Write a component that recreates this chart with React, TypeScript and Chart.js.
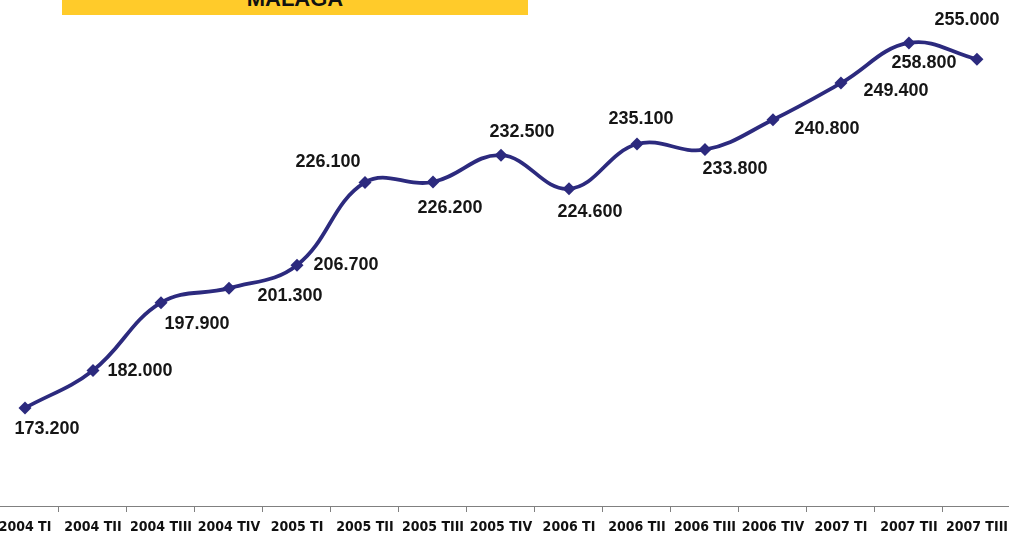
import React, { useEffect, useRef } from "react";
import { Chart, registerables } from "chart.js";

Chart.register(...registerables);

const categories = [
  "2004 TI", "2004 TII", "2004 TIII", "2004 TIV",
  "2005 TI", "2005 TII", "2005 TIII", "2005 TIV",
  "2006 TI", "2006 TII", "2006 TIII", "2006 TIV",
  "2007 TI", "2007 TII", "2007 TIII",
];

const values = [
  173200, 182000, 197900, 201300,
  206700, 226100, 226200, 232500,
  224600, 235100, 233800, 240800,
  249400, 258800, 255000,
];

const titleText = "MALAGA";

// label offsets relative to each point (style only)
const labelDx = [22, 47, 36, 61, 49, -37, 17, 21, 21, 4, 30, 54, 55, 15, -10];
const labelDy = [21, 1, 21, 8, 0, -20, 26, -23, 23, -25, 19, 9, 8, 20, -39];

const fmt = (v: number) => (v / 1000).toFixed(3);

const valueLabelPlugin = {
  id: "valueLabels",
  afterDatasetsDraw(chart: any) {
    const meta = chart.getDatasetMeta(0);
    const ctx = chart.ctx;
    ctx.save();
    ctx.font = 'bold 18px "Liberation Sans", Arial, sans-serif';
    ctx.fillStyle = "#161616";
    ctx.textAlign = "center";
    ctx.textBaseline = "middle";
    meta.data.forEach((pt: any, i: number) => {
      ctx.fillText(fmt(values[i]), pt.x + labelDx[i], pt.y + labelDy[i]);
    });
    ctx.restore();
  },
};

export default function App() {
  const canvasRef = useRef<HTMLCanvasElement | null>(null);

  useEffect(() => {
    const canvas = canvasRef.current;
    if (!canvas) return;
    const chart = new Chart(canvas, {
      type: "line",
      data: {
        labels: categories,
        datasets: [
          {
            data: values,
            borderColor: "#2C2A7E",
            backgroundColor: "#2C2A7E",
            borderWidth: 3.8,
            tension: 0.4,
            pointStyle: "rectRot",
            pointRadius: 6.5,
            pointBackgroundColor: "#2C2A7E",
            pointBorderColor: "#2C2A7E",
            pointBorderWidth: 0,
            clip: false as any,
          },
        ],
      },
      options: {
        animation: false,
        responsive: false,
        maintainAspectRatio: false,
        layout: { padding: 0, autoPadding: false },
        plugins: {
          legend: { display: false },
          tooltip: { enabled: false },
          title: { display: false },
        },
        scales: {
          x: {
            type: "category",
            offset: true,
            grid: {
              display: true,
              drawOnChartArea: false,
              offset: true,
              tickLength: 6,
              color: "#808080",
              lineWidth: 1,
            },
            border: { display: true, color: "#808080", width: 1 },
            ticks: {
              autoSkip: false,
              maxRotation: 0,
              minRotation: 0,
              padding: 7,
              color: "#111111",
              font: {
                family: '"Liberation Sans Narrow", "DejaVu Sans Condensed", Arial, sans-serif',
                size: 14,
                weight: "bold",
              },
            },
            afterFit: (scale: any) => {
              scale.height = 30;
            },
          },
          y: {
            display: false,
            min: 150220,
            max: 268880,
          },
        },
      },
      plugins: [valueLabelPlugin],
    });
    return () => chart.destroy();
  }, []);

  return (
    <div
      style={{
        position: "absolute",
        left: 0,
        top: 0,
        width: 1009,
        height: 536,
        overflow: "hidden",
        background: "#ffffff",
      }}
    >
      <canvas
        ref={canvasRef}
        width={1024}
        height={536}
        style={{ position: "absolute", left: -9, top: 0, width: 1024, height: 536 }}
      />
      <div
        style={{
          position: "absolute",
          left: 62,
          top: 0,
          width: 466,
          height: 15,
          background: "#FFCB2A",
          overflow: "hidden",
        }}
      >
        <div
          style={{
            position: "absolute",
            left: 0,
            right: 0,
            top: -12,
            textAlign: "center",
            fontFamily: '"Liberation Sans", Arial, sans-serif',
            fontWeight: "bold",
            fontSize: 22,
            lineHeight: "22px",
            color: "#111111",
          }}
        >
          {titleText}
        </div>
      </div>
    </div>
  );
}
